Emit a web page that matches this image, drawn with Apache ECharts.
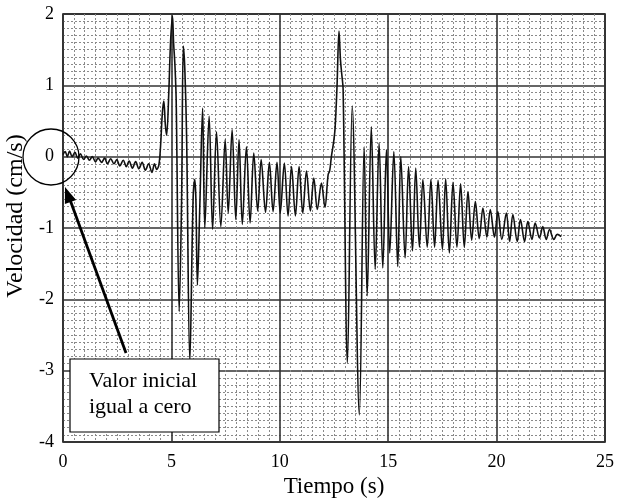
<!DOCTYPE html>
<html>
<head>
<meta charset="utf-8">
<script src="https://cdn.jsdelivr.net/npm/echarts@6/dist/echarts.min.js"></script>
<style>
html,body{margin:0;padding:0;background:#fff;}
#c{width:625px;height:498px;}
</style>
</head>
<body>
<div id="c"></div>
<script>
// Time (s) of the read-off points
const tiempo = [
  0, 0.1, 0.2, 0.3, 0.42, 0.55, 0.68, 0.8, 0.95, 1.08, 1.22, 1.35, 1.5, 1.62, 1.78, 1.92,
  2.05, 2.2, 2.35, 2.48, 2.62, 2.78, 2.92, 3.05, 3.2, 3.35, 3.5, 3.65, 3.8, 3.95, 4.1, 4.22,
  4.32, 4.42, 4.5, 4.58, 4.65, 4.72, 4.78, 4.88, 4.96, 5.05, 5.1, 5.16, 5.22, 5.36, 5.47,
  5.55, 5.62, 5.7, 5.85, 6.0, 6.08, 6.13, 6.2, 6.31, 6.44, 6.54, 6.74, 6.9, 7.08, 7.28,
  7.48, 7.62, 7.8, 7.97, 8.12, 8.27, 8.46, 8.63, 8.8, 8.98, 9.14, 9.34, 9.52, 9.69, 9.87,
  10.02, 10.21, 10.38, 10.54, 10.72, 10.89, 11.06, 11.23, 11.41, 11.57, 11.73, 11.92, 12.08,
  12.23, 12.3, 12.38, 12.48, 12.55, 12.64, 12.73, 12.8, 12.86, 12.92, 13.12, 13.34, 13.67,
  13.89, 14.03, 14.22, 14.4, 14.58, 14.75, 14.92, 15.07, 15.26, 15.44, 15.58, 15.78, 15.94,
  16.12, 16.27, 16.44, 16.6, 16.8, 16.97, 17.14, 17.3, 17.5, 17.65, 17.82, 17.99, 18.17,
  18.34, 18.51, 18.68, 18.85, 19.02, 19.2, 19.37, 19.55, 19.71, 19.9, 20.06, 20.24, 20.45,
  20.6, 20.75, 20.95, 21.1, 21.29, 21.44, 21.63, 21.78, 21.98, 22.13, 22.29, 22.44, 22.64,
  22.8, 22.98
];
// Velocity (cm/s) read at those times
const velocidad = [
  0.03, 0.07, 0.0, 0.08, 0.0, 0.06, -0.02, 0.04, -0.04, 0.01, -0.05, 0.0, -0.07, -0.02, -0.08, -0.02,
  -0.1, -0.03, -0.1, -0.04, -0.13, -0.05, -0.14, -0.06, -0.16, -0.07, -0.17, -0.08, -0.19, -0.1, -0.22, -0.1,
  -0.18, -0.12, 0.15, 0.6, 0.78, 0.45, 0.3, 0.9, 1.6, 1.97, 1.6, 1.3, 0.8, -2.17, -0.6,
  1.55, 1.22, 0.3, -2.87, -0.6, -0.32, -0.6, -1.8, -0.7, 0.68, -1.0, 0.57, -1.02, 0.35, -0.98,
  0.24, -0.79, 0.38, -0.88, 0.24, -0.95, 0.14, -0.93, 0.05, -0.76, -0.04, -0.78, -0.08, -0.77, -0.08,
  -0.79, -0.09, -0.83, -0.14, -0.83, -0.14, -0.79, -0.2, -0.76, -0.3, -0.74, -0.37, -0.71,
  -0.25, -0.2, 0.0, 0.2, 0.4, 0.99, 1.76, 1.35, 1.15, 0.95, -2.89, 0.71, -3.62,
  0.14, -1.95, 0.42, -1.58, 0.19, -1.56, 0.1, -1.35, 0.07, -1.54, 0.0, -1.42, -0.14,
  -1.32, -0.16, -1.27, -0.32, -1.27, -0.32, -1.27, -0.33, -1.3, -0.31, -1.35, -0.36, -1.27,
  -0.38, -1.27, -0.49, -1.17, -0.63, -1.15, -0.72, -1.13, -0.74, -1.13, -0.77, -1.16, -0.79,
  -1.19, -0.81, -1.19, -0.88, -1.19, -0.91, -1.16, -0.93, -1.14, -0.98, -1.16, -1.02, -1.16,
  -1.09, -1.12
];
const xTitle = 'Tiempo (s)';
const yTitle = 'Velocidad (cm/s)';
const noteLines = ['Valor inicial', 'igual a cero'];

const serie = tiempo.map((t, i) => [t, velocidad[i]]);
const FONT = '"Liberation Serif", "DejaVu Serif", serif';

const chart = echarts.init(document.getElementById('c'), null, {renderer: 'canvas'});
chart.setOption({
  animation: false,
  backgroundColor: '#fff',
  grid: {left: 63, top: 14, right: 20, bottom: 56, containLabel: false, outerBoundsMode: 'none',
         show: true, borderColor: '#000', borderWidth: 1.5, backgroundColor: 'transparent'},
  xAxis: {
    type: 'value', min: 0, max: 25, interval: 5,
    name: xTitle, nameLocation: 'middle', nameGap: 33,
    nameTextStyle: {fontFamily: FONT, fontSize: 23, color: '#000'},
    axisLine: {show: false}, axisTick: {show: false},
    axisLabel: {fontFamily: FONT, fontSize: 18, color: '#000', margin: 11},
    splitLine: {show: true, lineStyle: {color: '#333', width: 1.6}},
    minorTick: {show: false, splitNumber: 10},
    minorSplitLine: {show: true, lineStyle: {color: '#8a8a8a', width: 1, type: [2, 2]}}
  },
  yAxis: {
    type: 'value', min: -4, max: 2, interval: 1,
    name: yTitle, nameLocation: 'middle', nameGap: 27, nameRotate: 90,
    nameTextStyle: {fontFamily: FONT, fontSize: 24, color: '#000', padding: [0, 0, 0, 24]},
    axisLine: {show: false}, axisTick: {show: false},
    axisLabel: {fontFamily: FONT, fontSize: 18, color: '#000', margin: 9},
    splitLine: {show: true, lineStyle: {color: '#333', width: 1.6}},
    minorTick: {show: false, splitNumber: 10},
    minorSplitLine: {show: true, lineStyle: {color: '#8a8a8a', width: 1, type: [2, 2]}}
  },
  series: [{
    type: 'line', data: serie, showSymbol: false, smooth: 0.35,
    lineStyle: {color: '#111', width: 1.6}, z: 3
  }],
  graphic: [
    {type: 'circle', shape: {cx: 51, cy: 157, r: 28}, style: {fill: 'none', stroke: '#000', lineWidth: 1.3}, z: 10},
    {type: 'line', shape: {x1: 126, y1: 353, x2: 69, y2: 197}, style: {stroke: '#000', lineWidth: 2.8}, z: 10},
    {type: 'polygon', shape: {points: [[65, 187], [76.1, 199.9], [64.9, 204.1]]}, style: {fill: '#000'}, z: 10},
    {type: 'rect', shape: {x: 70, y: 359, width: 149, height: 73}, style: {fill: '#fff', stroke: '#000', lineWidth: 1.2}, z: 10},
    {type: 'text', x: 89, y: 368, style: {text: noteLines.join('\n'), font: '22px ' + FONT, fill: '#000', lineHeight: 26}, z: 11}
  ]
});
</script>
</body>
</html>
